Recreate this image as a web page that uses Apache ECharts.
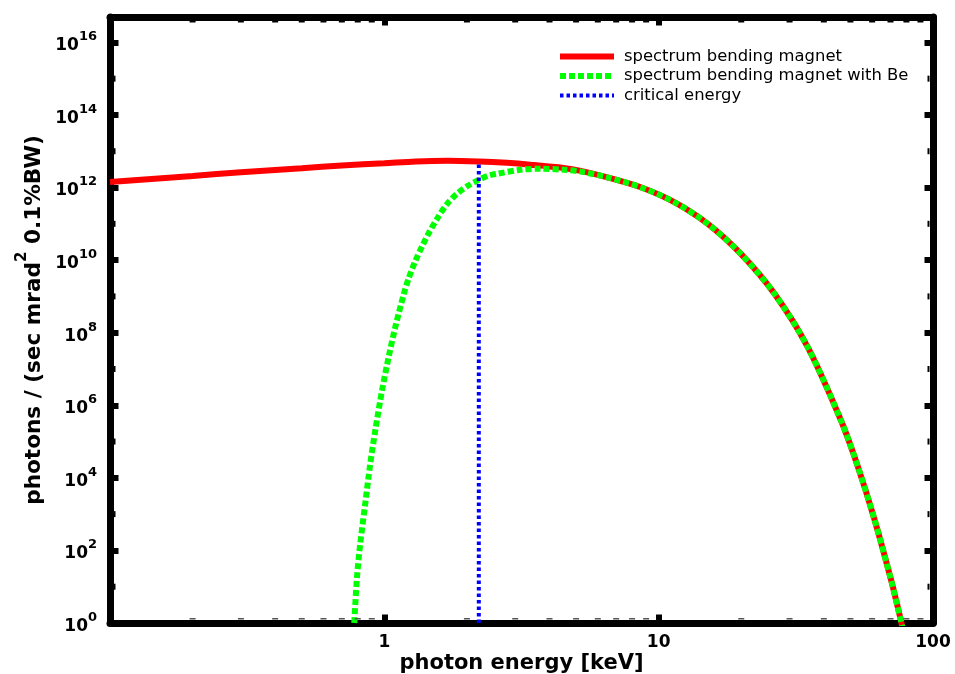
<!DOCTYPE html>
<html><head><meta charset="utf-8">
<script src="https://cdn.jsdelivr.net/npm/echarts@6/dist/echarts.min.js"></script>
<style>html,body{margin:0;padding:0;background:#fff}#c{width:955px;height:674px}</style>
</head><body><div id="c"></div>
<script>
const seriesNames = ['spectrum bending magnet', 'spectrum bending magnet with Be', 'critical energy'];
const xTitle = 'photon energy [keV]';

// spectrum bending magnet (keV, photons / (sec mrad^2 0.1%BW))
const bmEnergy = [0.1, 0.15, 0.2, 0.3, 0.5, 0.7, 1.0, 1.3, 1.7, 2.21, 2.8, 3.4, 4.5, 5.2, 6.5, 8.6, 11.4, 15.1, 19.9, 26.4, 34.9, 46.2, 53.1, 61.1, 70.3, 76.4, 77.5];
const bmFlux = [1.41e12, 1.78e12, 2.09e12, 2.63e12, 3.39e12, 4.07e12, 4.68e12, 5.25e12, 5.50e12, 5.25e12, 4.79e12, 4.27e12, 3.47e12, 2.88e12, 1.91e12, 1.02e12, 3.98e11, 1.0e11, 1.51e10, 1.20e9, 4.07e7, 3.80e5, 2.14e4, 741, 15.5, 1.17, 0.7];

// spectrum bending magnet with Be window
const beEnergy = [0.777, 0.795, 0.817, 0.852, 0.889, 0.927, 0.981, 1.037, 1.097, 1.176, 1.227, 1.298, 1.373, 1.451, 1.557, 1.694, 1.842, 2.03, 2.21, 2.40, 2.58, 3.14, 3.71, 4.51, 5.2, 6.5, 8.6, 11.4, 15.1, 19.9, 26.4, 34.9, 46.2, 53.1, 61.1, 70.3, 76.4, 77.5];
const beFlux = [1.0, 18.6, 155, 1950, 2.51e4, 2.04e5, 2.57e6, 2.14e7, 1.45e8, 1.12e9, 3.16e9, 9.55e9, 2.40e10, 5.50e10, 1.38e11, 3.55e11, 6.76e11, 1.15e12, 1.62e12, 2.14e12, 2.40e12, 3.09e12, 3.31e12, 3.09e12, 2.75e12, 1.91e12, 1.02e12, 3.98e11, 1.0e11, 1.51e10, 1.20e9, 4.07e7, 3.80e5, 2.14e4, 741, 15.5, 1.17, 0.7];

// critical energy marker
const criticalEnergy = [2.21, 2.21];
const criticalFlux = [1, 5.0e12];

// axis ranges and tick values
const xRange = [0.1, 100];
const yRange = [1, 5e16];
const xMinorTicks = [0.2, 0.3, 0.4, 0.5, 0.6, 0.7, 0.8, 0.9, 2, 3, 4, 5, 6, 7, 8, 9, 20, 30, 40, 50, 60, 70, 80, 90];
const yMinorTicks = [1e1, 1e3, 1e5, 1e7, 1e9, 1e11, 1e13, 1e15];

const FONT = 'DejaVu Sans';
const pairs = (xs, ys) => xs.map((x, i) => [x, ys[i]]);

const chart = echarts.init(document.getElementById('c'), null, {renderer: 'canvas'});

const frameLine = {show: true, onZero: false, lineStyle: {color: '#000', width: 7}};
const majorTick = {show: true, inside: true, length: 8.5, lineStyle: {color: '#000', width: 6}};

function xLabel(v) {
  const e = Math.log10(v);
  if (e < -0.5) return '';
  return String(Math.round(v));
}
function yLabel(v) {
  const l = Math.log10(v);
  const e = Math.round(l);
  if (Math.abs(l - e) > 1e-6 || e % 2 !== 0) return '';
  return '{b|10}{s|' + e + '}';
}

chart.setOption({
  animation: false,
  backgroundColor: '#fff',
  grid: {left: 110, right: 22, top: 17, bottom: 51, containLabel: false, outerBoundsMode: 'none'},
  legend: {
    orient: 'vertical', left: 557, top: 48.5, padding: 0,
    itemWidth: 54, itemHeight: 14, itemGap: 3.5,
    data: seriesNames,
    lineStyle: {width: 'inherit'},
    itemStyle: {opacity: 0},
    textStyle: {fontFamily: FONT, fontSize: 16.4, color: '#000', padding: [0, 0, 0, 5]}
  },
  xAxis: [
    {
      type: 'log', logBase: 10, min: xRange[0], max: xRange[1], interval: 1, position: 'bottom',
      name: xTitle, nameLocation: 'middle', nameGap: 30, nameMoveOverlap: false,
      nameTextStyle: {fontFamily: FONT, fontWeight: 'bold', fontSize: 21, color: '#000'},
      axisLine: frameLine, axisTick: majorTick, splitLine: {show: false}, minorTick: {show: false},
      axisLabel: {show: true, margin: 11, showMaxLabel: true, formatter: xLabel,
        fontFamily: FONT, fontWeight: 'bold', fontSize: 17, color: '#000'}
    },
    {
      type: 'log', logBase: 10, min: xRange[0], max: xRange[1], interval: 1, position: 'top',
      axisLine: frameLine, axisTick: majorTick, splitLine: {show: false},
      axisLabel: {show: false}
    }
  ],
  yAxis: [
    {
      type: 'log', logBase: 10, min: yRange[0], max: yRange[1], interval: 2, position: 'left',
      name: '{a|photons / (sec mrad}{s|2}{a| 0.1%BW)}', nameLocation: 'middle', nameGap: 65,
      nameRotate: 90, nameMoveOverlap: false,
      nameTextStyle: {
        rich: {
          a: {fontFamily: FONT, fontWeight: 'bold', fontSize: 21.6, color: '#000', verticalAlign: 'bottom', lineHeight: 30},
          s: {fontFamily: FONT, fontWeight: 'bold', fontSize: 15, color: '#000', verticalAlign: 'top', lineHeight: 30}
        }
      },
      axisLine: frameLine, axisTick: majorTick, splitLine: {show: false},
      axisLabel: {
        show: true, margin: 13, formatter: yLabel,
        rich: {
          b: {fontFamily: FONT, fontWeight: 'bold', fontSize: 17, color: '#000', verticalAlign: 'bottom'},
          s: {fontFamily: FONT, fontWeight: 'bold', fontSize: 13, color: '#000', verticalAlign: 'top', padding: [0, 0, 11, 0]}
        }
      }
    },
    {
      type: 'log', logBase: 10, min: yRange[0], max: yRange[1], interval: 2, position: 'right',
      axisLine: frameLine, axisTick: majorTick, splitLine: {show: false},
      axisLabel: {show: false}
    }
  ],
  series: [
    {
      name: seriesNames[0], type: 'line', xAxisIndex: 0, yAxisIndex: 0,
      data: pairs(bmEnergy, bmFlux), symbol: 'none', showSymbol: false, smooth: 0.3, z: 2,
      lineStyle: {color: '#ff0000', width: 6}, itemStyle: {color: '#ff0000'}
    },
    {
      name: seriesNames[1], type: 'line', xAxisIndex: 0, yAxisIndex: 0,
      data: pairs(beEnergy, beFlux), symbol: 'none', showSymbol: false, smooth: 0.3, z: 3,
      lineStyle: {color: '#00ff00', width: 6, type: [6, 3]}, itemStyle: {color: '#00ff00'}
    },
    {
      name: seriesNames[2], type: 'line', xAxisIndex: 0, yAxisIndex: 0,
      data: pairs(criticalEnergy, criticalFlux), symbol: 'none', showSymbol: false, z: 4,
      lineStyle: {color: '#0000ff', width: 4, type: [3.5, 3]}, itemStyle: {color: '#0000ff'}
    },
    {
      type: 'custom', xAxisIndex: 0, yAxisIndex: 0, silent: true, z: 5,
      data: xMinorTicks.map(v => [v, yRange[0]]),
      encode: {x: 0, y: 1},
      renderItem: function (params, api) {
        const x = api.value(0);
        const b = api.coord([x, yRange[0]]);
        const t = api.coord([x, yRange[1]]);
        return {type: 'group', children: [
          {type: 'rect', shape: {x: b[0] - 3, y: b[1] - 5, width: 6, height: 1.5}, style: {fill: '#555'}},
          {type: 'rect', shape: {x: t[0] - 3, y: t[1] + 3.5, width: 6, height: 2}, style: {fill: '#000'}}
        ]};
      }
    },
    {
      type: 'custom', xAxisIndex: 0, yAxisIndex: 0, silent: true, z: 5,
      data: yMinorTicks.map(v => [xRange[0], v]),
      encode: {x: 0, y: 1},
      renderItem: function (params, api) {
        const y = api.value(1);
        const l = api.coord([xRange[0], y]);
        const r = api.coord([xRange[1], y]);
        return {type: 'group', children: [
          {type: 'rect', shape: {x: l[0] + 3.5, y: l[1] - 3, width: 2, height: 6}, style: {fill: '#000'}},
          {type: 'rect', shape: {x: r[0] - 5.5, y: r[1] - 3, width: 2, height: 6}, style: {fill: '#000'}}
        ]};
      }
    }
  ]
});
</script>
</body></html>
